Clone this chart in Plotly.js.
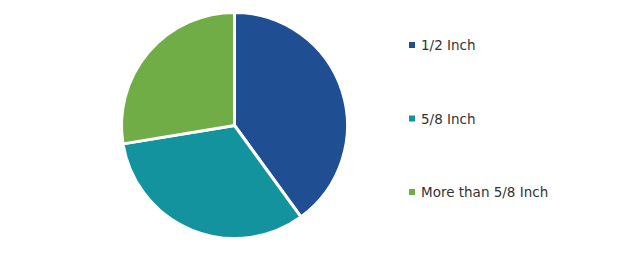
<!DOCTYPE html>
<html>
<head>
<meta charset="utf-8">
<script src="https://cdn.plot.ly/plotly-3.0.1.min.js"></script>
<style>html,body{margin:0;padding:0;background:#fff;}#chart{width:619px;height:255px;}</style>
</head>
<body>
<div id="chart"></div>
<script>
const labels = ["1/2 Inch", "5/8 Inch", "More than 5/8 Inch"];
const values = [40.0, 32.4, 27.6];
const colors = ["#1F4E93", "#12939E", "#70AD47"];

const legendY = [45, 118.5, 192];
const W = 619, H = 255;
const annotations = [];
const shapes = [];
labels.forEach((lab, i) => {
  const yPaper = 1 - legendY[i] / H;
  annotations.push({
    xref: "paper", yref: "paper", x: 419 / W, y: yPaper,
    xanchor: "left", yanchor: "middle", showarrow: false,
    text: lab, font: {family: "DejaVu Sans, Verdana, sans-serif", size: 13.5, color: "#333333"}
  });
  shapes.push({
    type: "rect", xref: "paper", yref: "paper",
    x0: 409 / W, x1: 415 / W, y0: 1 - (legendY[i] + 3) / H, y1: 1 - (legendY[i] - 3) / H,
    fillcolor: colors[i], line: {width: 0}
  });
});

const trace = {
  type: "pie",
  labels: labels,
  values: values,
  sort: false,
  direction: "clockwise",
  rotation: 0,
  marker: {colors: colors, line: {color: "#ffffff", width: 3}},
  textinfo: "none",
  hoverinfo: "label+percent",
  domain: {x: [(234.5 - 113) / W, (234.5 + 113) / W], y: [(H - 238.5) / H, (H - 12.5) / H]},
  showlegend: false
};

Plotly.newPlot("chart", [trace], {
  width: W, height: H,
  margin: {l: 0, r: 0, t: 0, b: 0},
  paper_bgcolor: "#ffffff",
  plot_bgcolor: "#ffffff",
  showlegend: false,
  annotations: annotations,
  shapes: shapes
}, {displayModeBar: false, staticPlot: true});
</script>
</body>
</html>
